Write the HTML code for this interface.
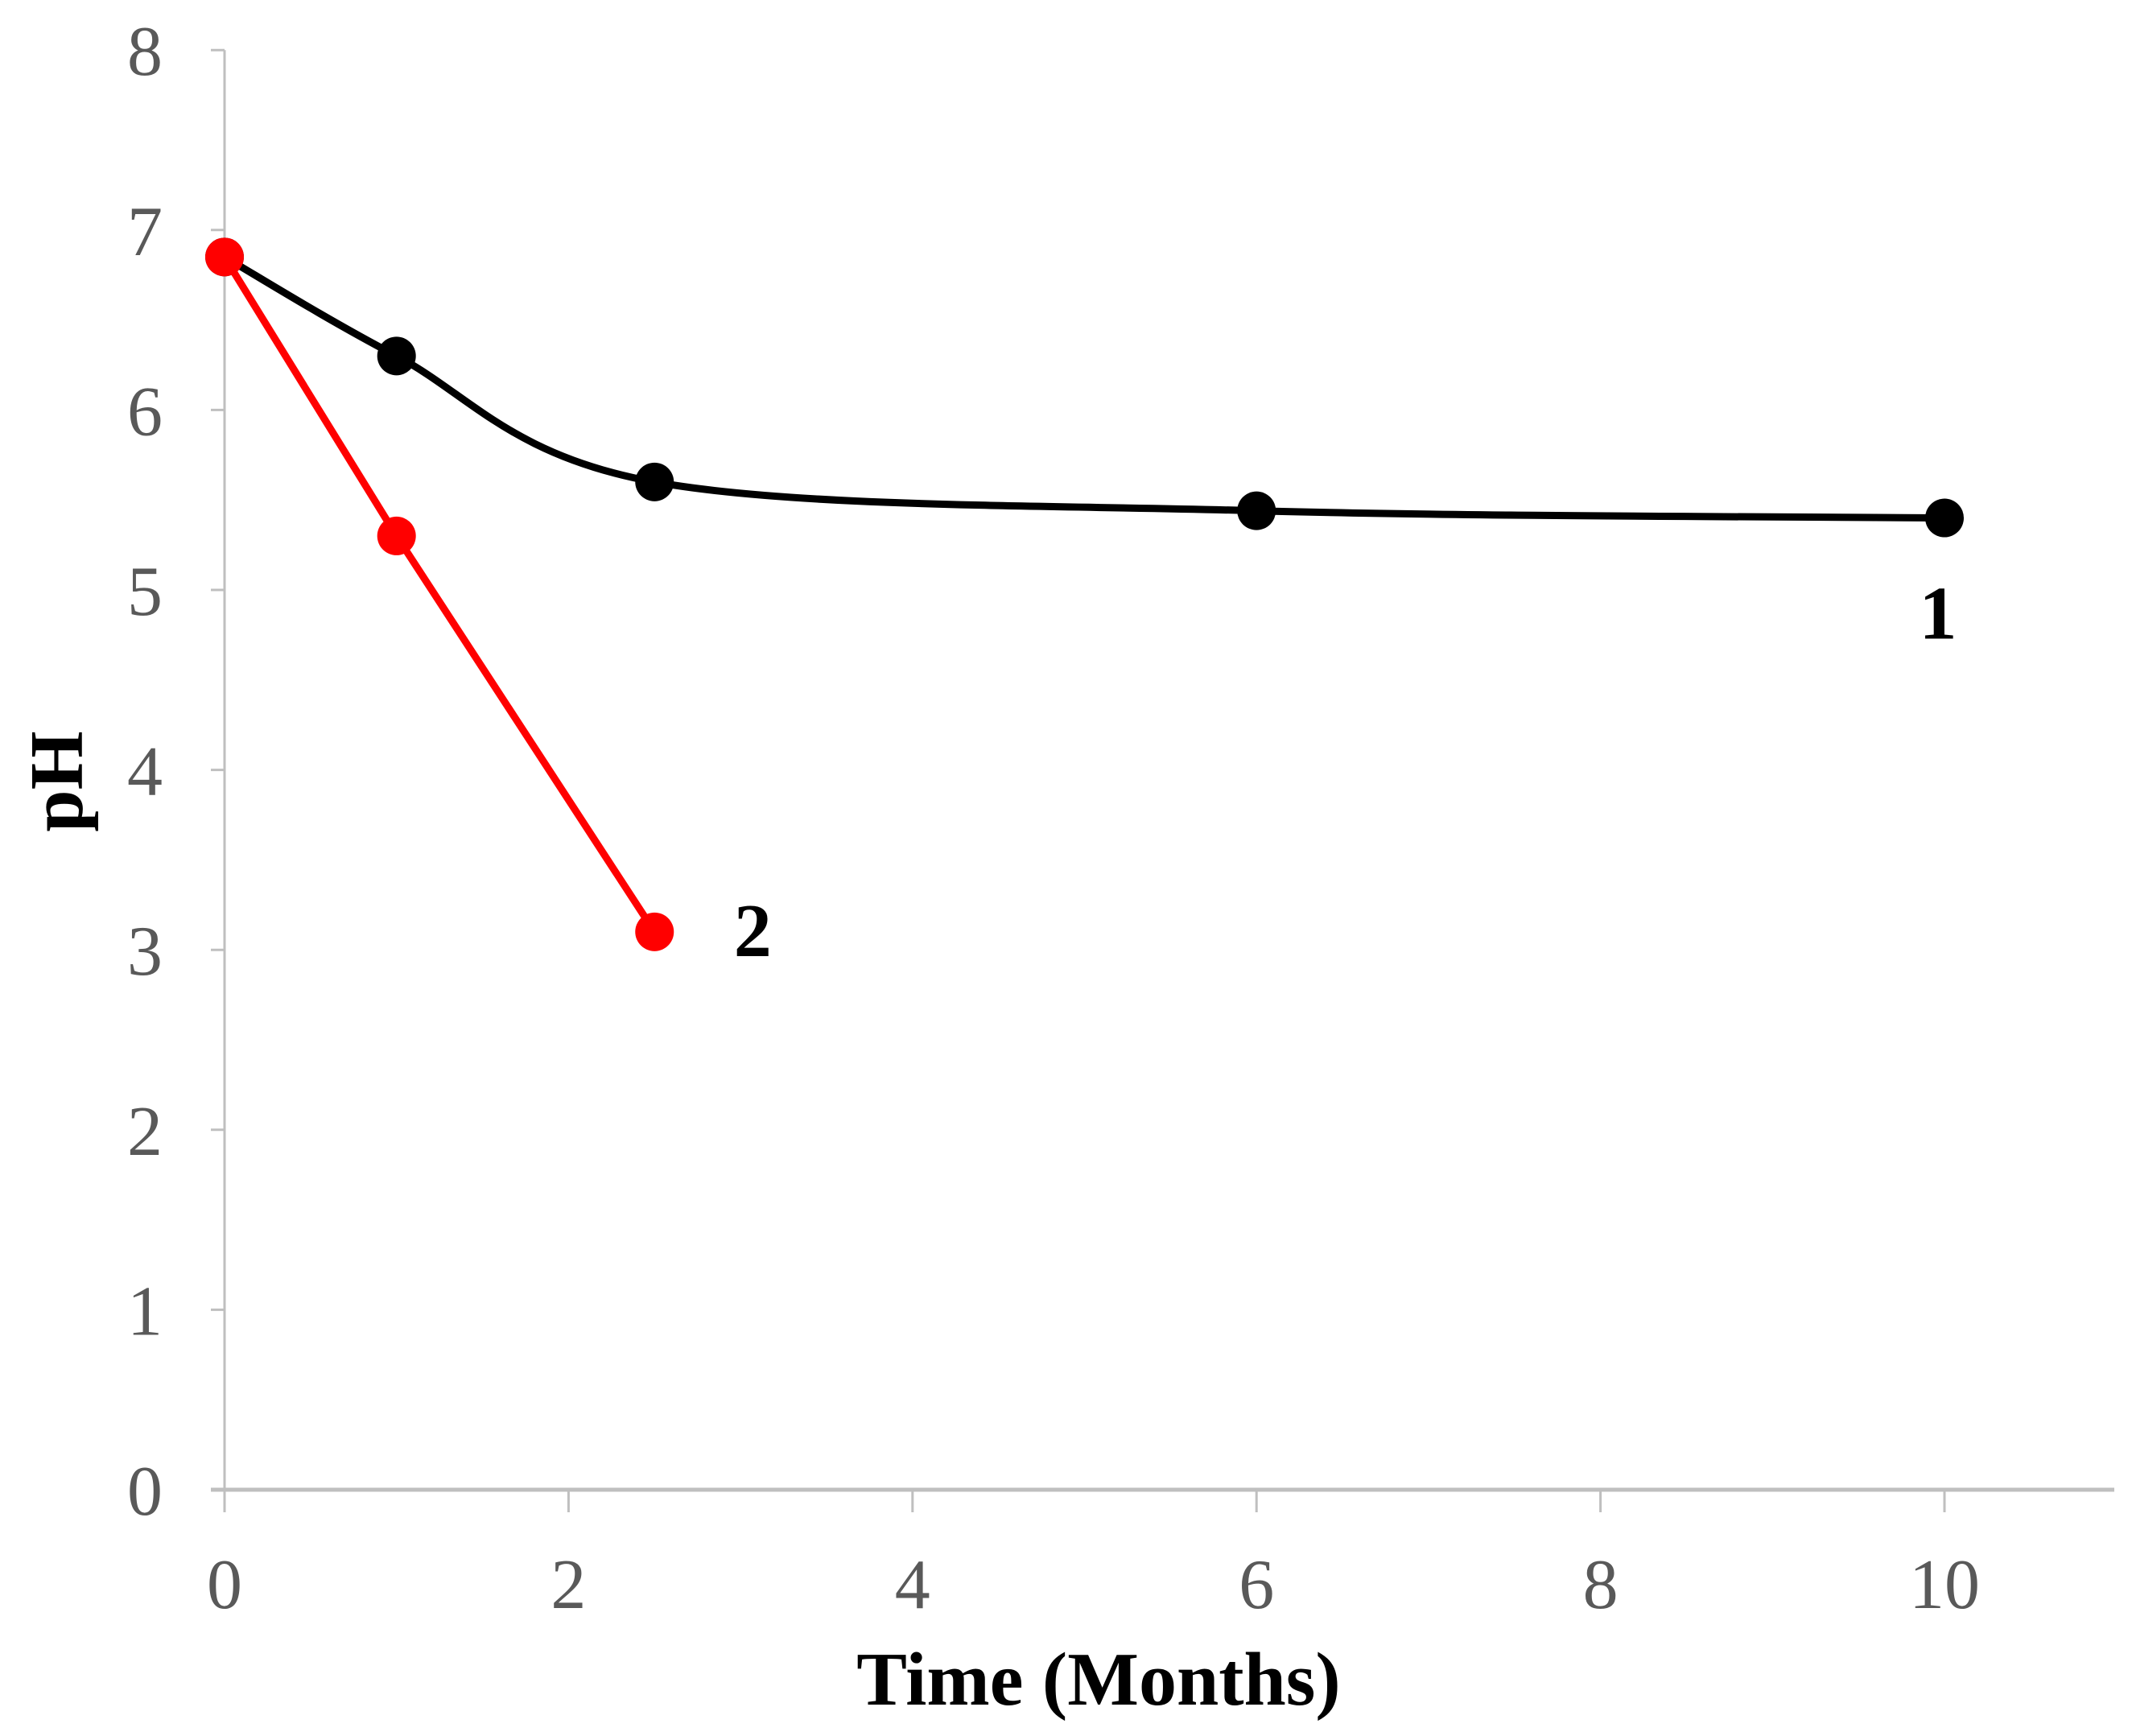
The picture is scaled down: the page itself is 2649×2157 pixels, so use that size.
<!DOCTYPE html>
<html><head><meta charset="utf-8"><style>
html,body{margin:0;padding:0;background:#fff;}
svg text{font-family:"Liberation Serif",serif;}
</style></head><body>
<svg id="chart" width="2649" height="2152" viewBox="0 0 2649 2152" xmlns="http://www.w3.org/2000/svg">
<g id="axes"></g><g id="series"></g>
<text x="1365" y="2118" text-anchor="middle" font-size="94" font-weight="bold" fill="#000">Time (Months)</text>
<text transform="translate(102,971) rotate(-90)" text-anchor="middle" font-size="94" font-weight="bold" fill="#000">pH</text>
</svg>
<script>
const xTicks=[0,2,4,6,8,10];
const yTicks=[0,1,2,3,4,5,6,7,8];
const s1x=[0,1,2.5,6,10];
const s1y=[6.85,6.3,5.6,5.44,5.4];
const s2x=[0,1,2.5];
const s2y=[6.85,5.3,3.1];
const seriesLabels=["1","2"];
const X=v=>279+v*213.7;
const Y=v=>1851-v*223.6;
const NS="http://www.w3.org/2000/svg";
function mk(t,a,p){const e=document.createElementNS(NS,t);for(const k in a)e.setAttribute(k,a[k]);p.appendChild(e);return e;}
const ax=document.getElementById('axes'),sr=document.getElementById('series');
let yl=mk('line',{x1:279,y1:Y(8),x2:279,y2:Y(0),stroke:'#bfbfbf','stroke-width':3},ax);


let xl=mk('line',{x1:262,y1:Y(0),x2:2627,y2:Y(0),stroke:'#bfbfbf','stroke-width':5},ax);


yTicks.forEach(v=>{
  mk('line',{x1:262,y1:Y(v),x2:279,y2:Y(v),stroke:'#bfbfbf','stroke-width':3},ax);
  const t=mk('text',{x:202,y:Y(v)+31,'text-anchor':'end','font-size':88,fill:'#595959'},ax);
  t.textContent=v;
  
  
});
xTicks.forEach(v=>{
  mk('line',{x1:X(v),y1:Y(0),x2:X(v),y2:Y(0)+28,stroke:'#bfbfbf','stroke-width':3},ax);
  const t=mk('text',{x:X(v),y:1998,'text-anchor':'middle','font-size':88,fill:'#595959'},ax);
  t.textContent=v;
  
  
});
function smooth(xs,ys){
  const p=xs.map((x,i)=>[X(x),Y(ys[i])]);
  let d='M'+p[0][0]+','+p[0][1];
  for(let i=0;i<p.length-1;i++){
    const p0=p[i-1]||p[i],p1=p[i],p2=p[i+1],p3=p[i+2]||p2,k=1/6;
    d+=` C${p1[0]+(p2[0]-p0[0])*k},${p1[1]+(p2[1]-p0[1])*k} ${p2[0]-(p3[0]-p1[0])*k},${p2[1]-(p3[1]-p1[1])*k} ${p2[0]},${p2[1]}`;
  }
  return d;
}
let l1=mk('path',{d:smooth(s1x,s1y),fill:'none',stroke:'#000','stroke-width':9},sr);


s1x.forEach((x,i)=>{const c=mk('circle',{cx:X(x),cy:Y(s1y[i]),r:24,fill:'#000'},sr);

});
let l2=mk('polyline',{points:s2x.map((x,i)=>X(x)+','+Y(s2y[i])).join(' '),fill:'none',stroke:'#ff0000','stroke-width':9},sr);


s2x.forEach((x,i)=>{const c=mk('circle',{cx:X(x),cy:Y(s2y[i]),r:24,fill:'#ff0000'},sr);

});
let t1=mk('text',{x:X(10)-8,y:Y(s1y[4])+150,'text-anchor':'middle','font-size':94,'font-weight':'bold',fill:'#000'},sr);
t1.textContent=seriesLabels[0];


let t2=mk('text',{x:X(2.5)+122,y:Y(s2y[2])+30,'text-anchor':'middle','font-size':94,'font-weight':'bold',fill:'#000'},sr);
t2.textContent=seriesLabels[1];


</script>
</body></html>
